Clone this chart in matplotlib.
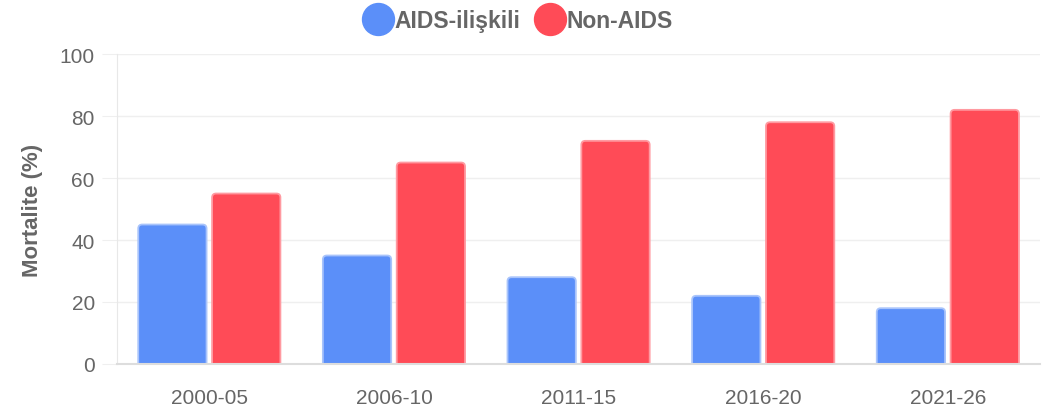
import matplotlib
matplotlib.use("Agg")
import matplotlib.pyplot as plt
import numpy as np
from matplotlib.lines import Line2D
from matplotlib.patches import FancyBboxPatch

categories = ["2000-05", "2006-10", "2011-15", "2016-20", "2021-26"]
aids_related = [45, 35, 28, 22, 18]
non_aids = [55, 65, 72, 78, 82]
series_names = ["AIDS-ilişkili", "Non-AIDS"]
y_ticks = [0, 20, 40, 60, 80, 100]

plt.rcParams['font.family'] = ['Liberation Sans', 'DejaVu Sans']

blue = "#5B8FF9"
blue_edge = "#A9C4FB"
red = "#FF4B57"
red_edge = "#FF9AA1"

fig = plt.figure(figsize=(10.56, 4.14), dpi=100)
ax = fig.add_axes([0.1108, 0.1184, 0.985 - 0.1108, 0.867 - 0.1184])

x = np.arange(len(categories))
w = 0.37
ax.set_xlim(-0.5, len(categories) - 0.5)
ax.set_ylim(0, 100)

b1 = ax.bar(x - 0.2, aids_related, width=w)
b2 = ax.bar(x + 0.2, non_aids, width=w)

# rounded tops (Chart.js style): replace bar rectangles by rounded boxes
fig.canvas.draw()
p0 = ax.transData.transform((0, 0))
p1 = ax.transData.transform((1, 1))
px_x = p1[0] - p0[0]
px_y = p1[1] - p0[1]
r_px = 4.0
r_x = r_px / px_x
aspect = (r_px / px_y) / r_x
for bars, fc, ec in ((b1, blue, blue_edge), (b2, red, red_edge)):
    for b in bars:
        bx, by, bw, bh = b.get_x(), b.get_y(), b.get_width(), b.get_height()
        b.set_visible(False)
        ext = 3.0
        p = FancyBboxPatch((bx, by - ext), bw, bh + ext,
                           boxstyle=f"round,pad=0,rounding_size={r_x}",
                           mutation_aspect=aspect, facecolor=fc, edgecolor=ec,
                           linewidth=1.3, zorder=3)
        ax.add_patch(p)

ax.set_yticks(y_ticks)
ax.set_xticks(x)
ax.set_xticklabels(categories)
ax.grid(axis='y', color='#EFEFEF', linewidth=1, zorder=0)
ax.tick_params(axis='y', length=11, color='#EFEFEF', labelcolor='#666666', labelsize=15, pad=5)
ax.tick_params(axis='x', length=0, labelcolor='#666666', labelsize=15, pad=17)
for s in ['top', 'right']:
    ax.spines[s].set_visible(False)
ax.spines['left'].set_color('#E8E8E8')
ax.spines['bottom'].set_color('#DDDDDD')
ax.spines['bottom'].set_linewidth(1.5)
ax.spines['bottom'].set_zorder(4)

ax.set_ylabel("Mortalite (%)", color='#666666', fontsize=16, fontweight='bold', labelpad=12)

handles = [Line2D([0], [0], marker='o', linestyle='', markersize=23, markerfacecolor=blue, markeredgecolor=blue),
           Line2D([0], [0], marker='o', linestyle='', markersize=23, markerfacecolor=red, markeredgecolor=red)]
fig.legend(handles, series_names, loc='center', bbox_to_anchor=(0.49, 0.947), ncol=2, frameon=False,
           handletextpad=0.0, columnspacing=0.6, handlelength=1.4,
           prop={'size': 16.5, 'weight': 'bold'}, labelcolor='#666666')

fig.savefig("out.png", dpi=100, facecolor='white')
